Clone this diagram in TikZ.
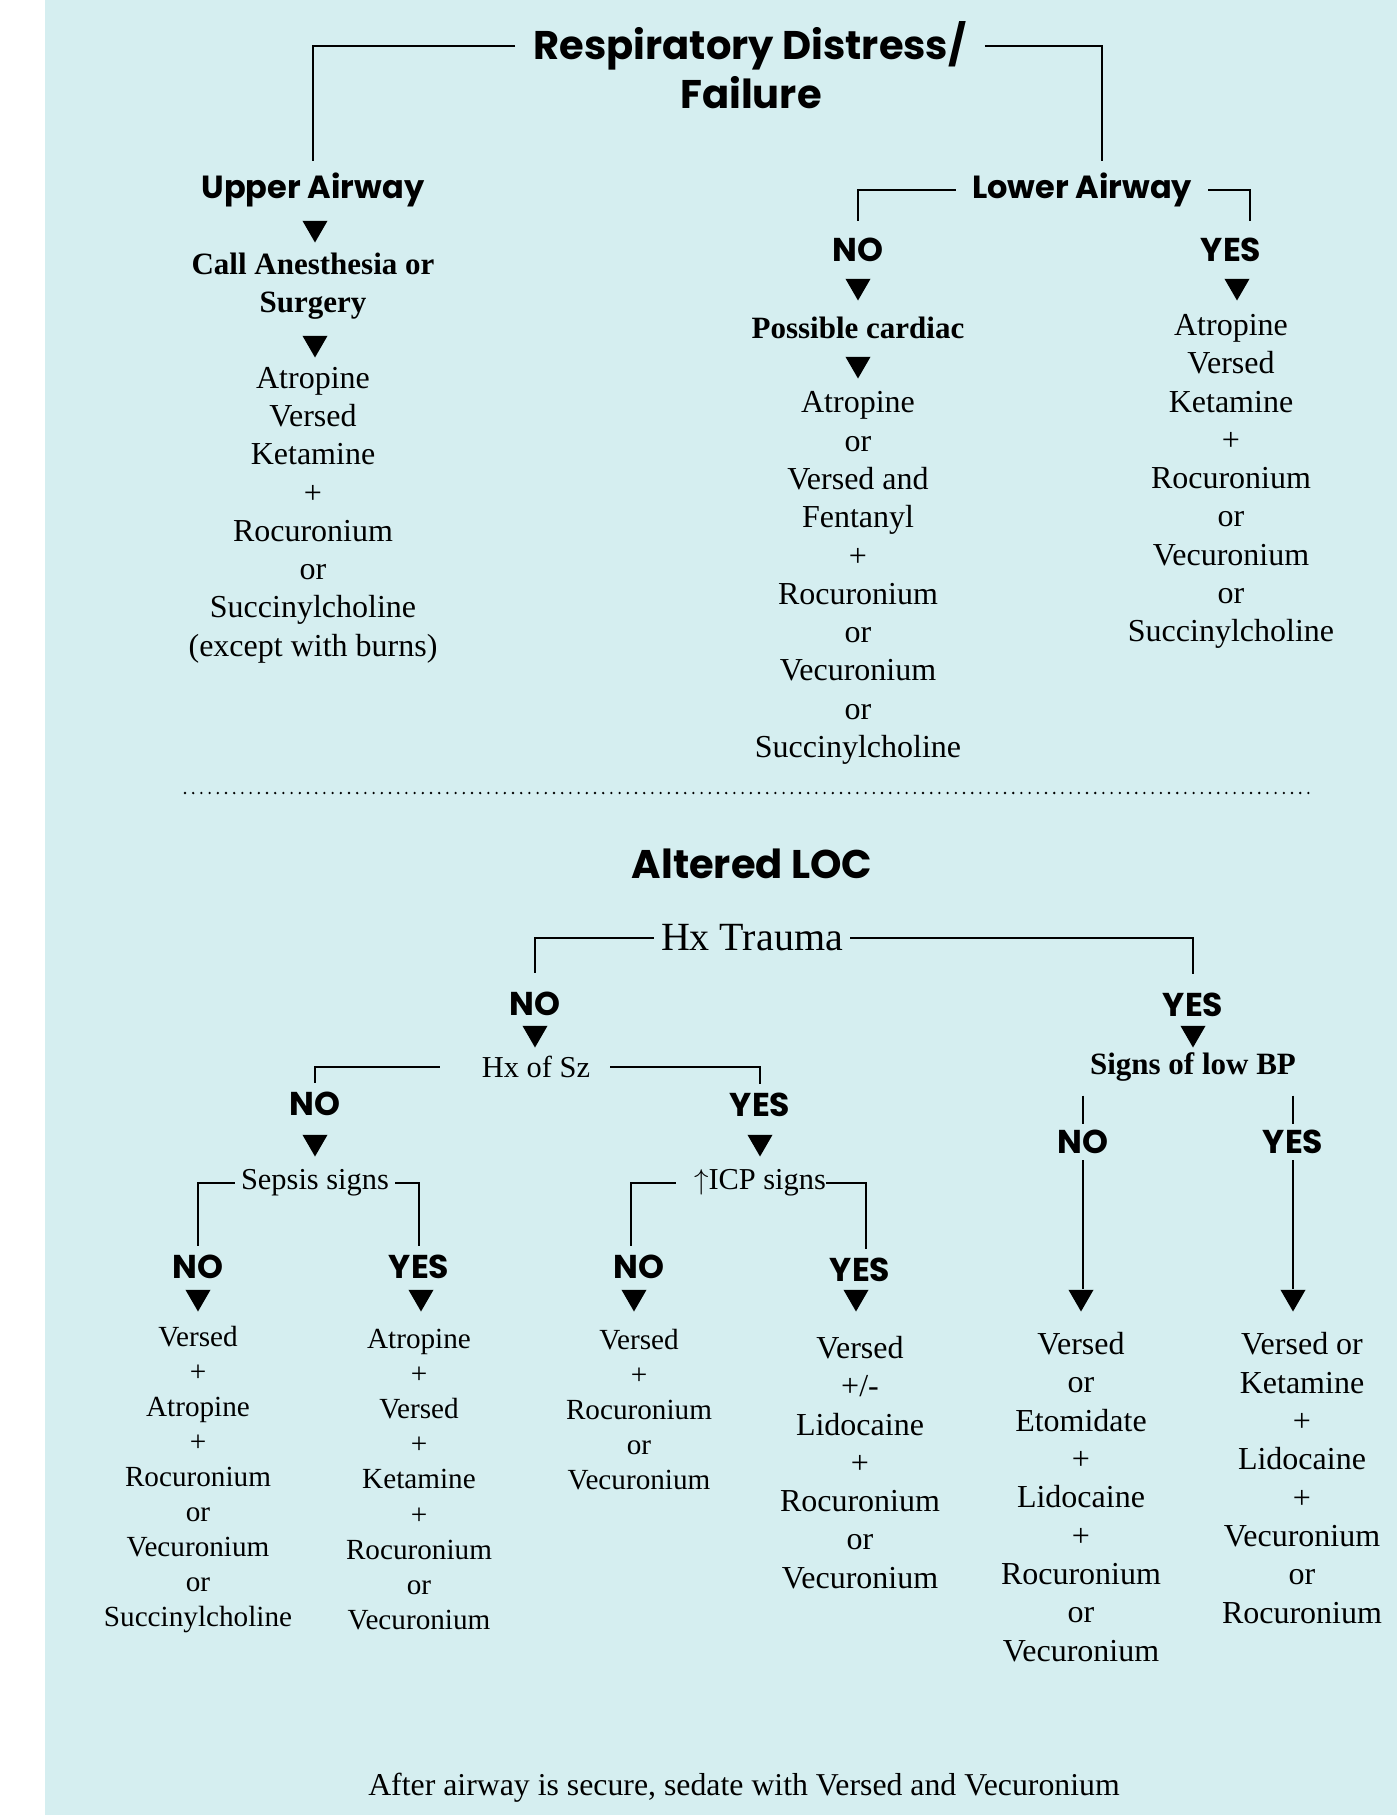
\documentclass[tikz,border=0pt]{standalone}
\usepackage{fontspec}
\setmainfont{Liberation Serif}
\newfontfamily\hsans{Poppins}
\usetikzlibrary{shapes.geometric}
\definecolor{panel}{RGB}{213,238,240}

\begin{document}
\begin{tikzpicture}[x=0.5pt,y=-0.5pt,
  head/.style={font=\hsans\bfseries\fontsize{20}{24}\selectfont, inner xsep=9pt},
  lab/.style={font=\hsans\bfseries\fontsize{16}{19}\selectfont, inner xsep=8pt, inner ysep=5.8pt},
  yn/.style={font=\hsans\bfseries\fontsize{16.5}{19}\selectfont, inner ysep=4.5pt},
  bq/.style={font=\bfseries\fontsize{15.5}{19}\selectfont, align=center},
  q/.style={font=\fontsize{15.2}{18}\selectfont},
  drug/.style={font=\fontsize{16}{19.15}\selectfont, align=center},
  drugs/.style={font=\fontsize{14.6}{17.56}\selectfont, align=center},
  tri/.style={regular polygon, regular polygon sides=3, shape border rotate=180, fill, inner sep=0pt, minimum size=14.5pt},
  link/.style={line width=1.1pt}]
\fill[white] (0,0) rectangle (1397,1815);
\fill[panel] (45,0) rectangle (1397,1815);
\useasboundingbox (0,0) rectangle (1397,1815);

\node[head] (resp) at (750,46) {Respiratory Distress/};
\node[head] (fail) at (751,93) {Failure};
\node[lab] (ua) at (313,190) {Upper Airway};
\node[tri] (ua1) at (315,228) {};
\node[bq] (call) at (313,286) {Call Anesthesia or\\Surgery};
\node[tri] (ua2) at (315,343) {};
\node[drug] (uadrug) at (313,515) {Atropine\\Versed\\Ketamine\\+\\Rocuronium\\or\\Succinylcholine\\(except with burns)};

\node[lab] (la) at (1082,190) {Lower Airway};
\node[yn, inner ysep=8.25pt] (lano) at (858,250) {NO};
\node[yn, inner ysep=8.25pt] (layes) at (1231,250) {YES};
\node[tri] (la1) at (858,286) {};
\node[tri] (la2) at (1237,286) {};
\node[bq] (card) at (858,328) {Possible cardiac};
\node[tri] (la3) at (858,364) {};
\node[drug] (nodrug) at (858,578) {Atropine\\or\\Versed and\\Fentanyl\\+\\Rocuronium\\or\\Vecuronium\\or\\Succinylcholine};
\node[drug] (yesdrug) at (1231,481.5) {Atropine\\Versed\\Ketamine\\+\\Rocuronium\\or\\Vecuronium\\or\\Succinylcholine};

\draw[link] (resp.west) -| (ua.north);
\draw[link] (resp.east) -| ([xshift=10pt]la.north);
\draw[link] (la.west) -| (lano.north);
\draw[link] (la.east) -| ([xshift=9.5pt]layes.north);

\draw[line width=1.3pt, line cap=round, dash pattern=on 0pt off 4.1pt] (185,793) -- (1316,793);

\node[head] (loc) at (752,864) {Altered LOC};
\node[font=\fontsize{20}{24}\selectfont, inner xsep=3.5pt] (hxt) at (752,938) {Hx Trauma};
\node[yn, inner ysep=9.25pt] (tno) at (535,1004) {NO};
\node[yn, inner ysep=9.25pt] (tyes) at (1193,1005) {YES};
\node[tri] (hx1) at (535,1033) {};
\node[tri] (hx2) at (1193,1033) {};
\node[q, inner xsep=10pt] (hxsz) at (536,1067) {Hx of Sz};
\node[bq, inner ysep=7pt] (lbp) at (1193,1067) {Signs of low BP};
\draw[link] (hxt.west) -| (tno.north);
\draw[link] (hxt.east) -| (tyes.north);

\node[yn] (szno) at (315,1104) {NO};
\node[yn] (szyes) at (760,1105) {YES};
\node[tri] (sz1) at (315,1142) {};
\node[tri] (sz2) at (760,1142) {};
\node[q, inner xsep=3pt] (sep) at (315,1183) {Sepsis signs};
\node[q, inner xsep=0pt] (icp) at (760,1183) {$\uparrow$ICP signs};
\draw[link] ([xshift=-11pt]hxsz.west) -| (szno.north);
\draw[link] (hxsz.east) -| (szyes.north);

\node[yn] (sepno) at (198,1267) {NO};
\node[yn] (sepyes) at (419,1267) {YES};
\node[yn] (icpno) at (639,1267) {NO};
\node[yn] (icpyes) at (860,1270) {YES};
\draw[link] (sep.west) -| (sepno.north);
\draw[link] (sep.east) -| (sepyes.north);
\draw[link] ([xshift=-9pt]icp.west) -| ([xshift=-4pt]icpno.north);
\draw[link] (icp.east) -| ([xshift=3pt]icpyes.north);

\node[yn, inner ysep=3pt] (bpno) at (1083,1142) {NO};
\node[yn, inner ysep=3pt] (bpyes) at (1293,1142) {YES};

\node[tri] (c1t) at (198,1297) {};
\node[tri] (c2t) at (421,1297) {};
\node[tri] (c3t) at (634,1297) {};
\node[tri] (c4t) at (856,1297) {};
\node[tri] (c5t) at (1081,1297) {};
\node[tri] (c6t) at (1293,1297) {};
\draw[link] (bpno.north |- lbp.south) -- (bpno.north);
\draw[link] (bpno.south) -- (bpno.south |- c5t.north);
\draw[link] (bpyes.north |- lbp.south) -- (bpyes.north);
\draw[link] (bpyes.south) -- (bpyes.south |- c6t.north);

\node[drugs] (c1) at (198,1479.5) {Versed\\+\\Atropine\\+\\Rocuronium\\or\\Vecuronium\\or\\Succinylcholine};
\node[drugs] (c2) at (419,1479.5) {Atropine\\+\\Versed\\+\\Ketamine\\+\\Rocuronium\\or\\Vecuronium};
\node[drugs] (c3) at (639,1409.5) {Versed\\+\\Rocuronium\\or\\Vecuronium};
\node[drug] (c4) at (860,1462.5) {Versed\\+/-\\Lidocaine\\+\\Rocuronium\\or\\Vecuronium};
\node[drug] (c5) at (1081,1497) {Versed\\or\\Etomidate\\+\\Lidocaine\\+\\Rocuronium\\or\\Vecuronium};
\node[drug] (c6) at (1302,1478) {Versed or\\Ketamine\\+\\Lidocaine\\+\\Vecuronium\\or\\Rocuronium};
\node[q, font=\fontsize{15.9}{19}\selectfont] (foot) at (744,1788) {After airway is secure, sedate with Versed and Vecuronium};
\end{tikzpicture}
\end{document}
